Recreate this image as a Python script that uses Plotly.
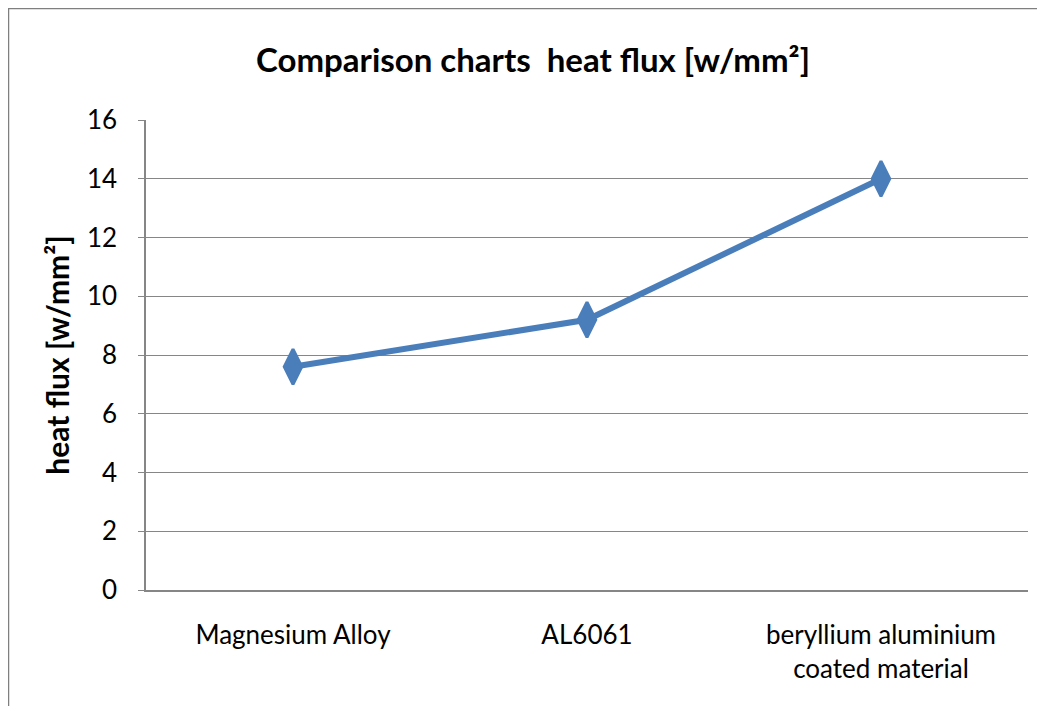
import plotly.graph_objects as go

categories = ["Magnesium Alloy", "AL6061", "beryllium aluminium<br>coated material"]
heat_flux = [7.6, 9.2, 14.0]
y_ticks = [0, 2, 4, 6, 8, 10, 12, 14, 16]

OFF = 8  # page body margin
W, H = 1045, 706
L, T = 146 - OFF, 120 - OFF
R = W - (1028 - OFF)
B = H - (590 - OFF)
pw, ph = W - L - R, H - T - B

fig = go.Figure()
fig.add_trace(go.Scatter(
    x=categories, y=heat_flux, mode="lines+markers",
    line=dict(color="#4A7EBB", width=6),
    marker=dict(symbol="diamond-tall", size=25, color="#4A7EBB",
                line=dict(color="#4A7EBB", width=3)),
    showlegend=False,
))

font_family = "Lato, Carlito, Calibri, sans-serif"
fig.update_layout(
    width=W, height=H,
    margin=dict(l=L, r=R, t=T, b=B),
    paper_bgcolor="white", plot_bgcolor="white",
    font=dict(family=font_family, color="#000000"),
    title=dict(text="<b>Comparison charts  heat flux [w/mm²]</b>",
               x=(533 - OFF) / W, xanchor="center", y=1 - (60 - OFF) / H, yanchor="middle",
               font=dict(size=33, family=font_family)),
    xaxis=dict(type="category", range=[-0.5, 2.5], showgrid=False,
               showline=True, linecolor="#868686", linewidth=1.5,
               ticks="", tickfont=dict(size=26), ticklabelstandoff=21),
    yaxis=dict(range=[0, 16], tickvals=y_ticks, showgrid=True,
               gridcolor="#868686", gridwidth=1.3,
               showline=True, linecolor="#868686", linewidth=1.5,
               ticks="outside", ticklen=6, tickcolor="#868686",
               tickfont=dict(size=26), zeroline=False, ticklabelstandoff=16,
               title=dict(text="<b>heat flux [w/mm²]</b>", font=dict(size=30), standoff=8)),
    shapes=[dict(type="rect", xref="paper", yref="paper",
                 x0=(8 - OFF - L) / pw, x1=1.2, y0=-0.5, y1=1 + (T - (8 - OFF)) / ph,
                 line=dict(color="#7F7F7F", width=2.5), layer="below")],
)

fig.write_html("out.html")
